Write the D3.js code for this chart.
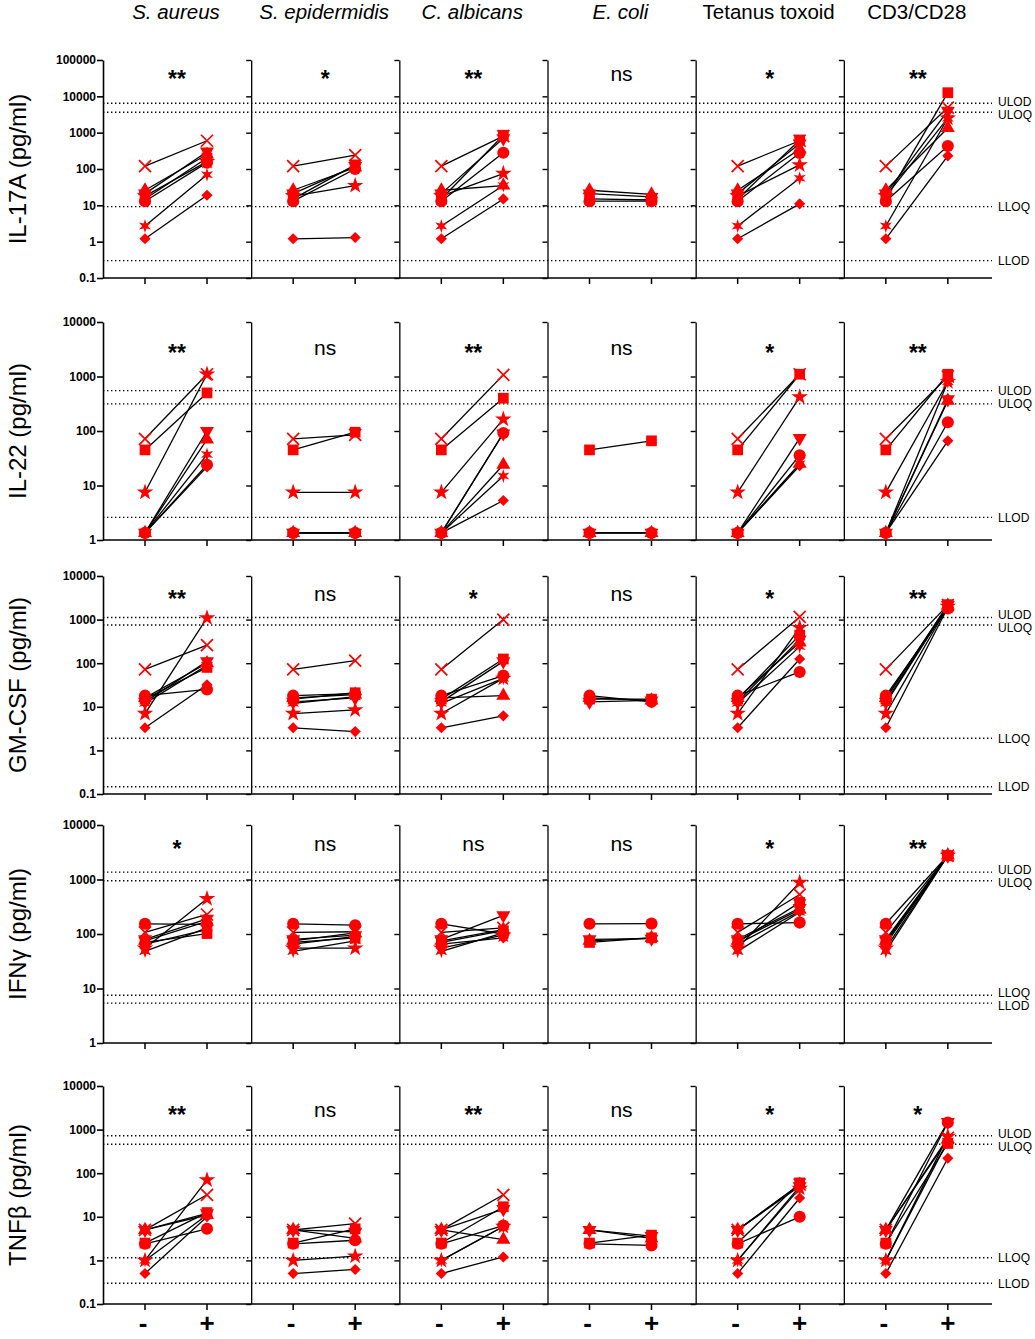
<!doctype html>
<html>
<head>
<meta charset="utf-8">
<style>
  body { margin: 0; background: #fff; }
  svg { display: block; font-family: "Liberation Sans", Arial, sans-serif; }
</style>
</head>
<body>
<div id="chart"></div>
<script src="https://d3js.org/d3.v7.min.js"></script>
<script>
// ---- data ----
const stimuli = ['S. aureus', 'S. epidermidis', 'C. albicans', 'E. coli', 'Tetanus toxoid', 'CD3/CD28'];
const italicStimuli = ['S. aureus', 'S. epidermidis', 'C. albicans', 'E. coli'];
const conditions = ['-', '+'];
// one marker shape per donor
const donorShapes = ['cross', 'triangle', 'star', 'square', 'diamond', 'circle', 'asterisk', 'triangleDown'];

const cytokines = ['IL-17A (pg/ml)', 'IL-22 (pg/ml)', 'GM-CSF (pg/ml)', 'IFNγ (pg/ml)', 'TNFβ (pg/ml)'];
const yDomains = [[0.1, 100000], [1, 10000], [0.1, 10000], [1, 10000], [0.1, 10000]];
const yTicks = [
  [0.1, 1, 10, 100, 1000, 10000, 100000],
  [1, 10, 100, 1000, 10000],
  [0.1, 1, 10, 100, 1000, 10000],
  [1, 10, 100, 1000, 10000],
  [0.1, 1, 10, 100, 1000, 10000]
];
const significance = [
  ['**', '*', '**', 'ns', '*', '**'],
  ['**', 'ns', '**', 'ns', '*', '**'],
  ['**', 'ns', '*', 'ns', '*', '**'],
  ['*', 'ns', 'ns', 'ns', '*', '**'],
  ['**', 'ns', '**', 'ns', '*', '*']
];
const limitNames = [
  ['ULOD', 'ULOQ', 'LLOQ', 'LLOD'],
  ['ULOD', 'ULOQ', 'LLOD'],
  ['ULOD', 'ULOQ', 'LLOQ', 'LLOD'],
  ['ULOD', 'ULOQ', 'LLOQ', 'LLOD'],
  ['ULOD', 'ULOQ', 'LLOQ', 'LLOD']
];
const limitValues = [
  [6450, 3630, 9.2, 0.3],
  [550, 315, 2.6],
  [1120, 750, 1.9, 0.147],
  [1365, 950, 7.5, 5.4],
  [720, 460, 1.15, 0.3]
];

// unstimulated (-) value per donor, and stimulated (+) value per stimulus per donor
// donor order: cross, triangle, star, square, diamond, circle, asterisk, triangleDown
const il17aUnstim = [120, 26, 18, 15, 1.2, 13, 2.7, 21];
const il17aStim = [
  [600, 250, 160, 200, 19, 150, 70, 300],
  [240, 110, 35, 130, 1.3, 100, null, 120],
  [800, 35, 75, 850, 15, 280, 35, 700],
  [null, 20, null, 14, null, 13, null, 17],
  [600, 350, 130, 630, 11, 275, 56, 500],
  [4900, 1340, 2500, 12600, 230, 430, 2500, 4000]
];
const il22Unstim = [72, 1.35, 7.5, 45, 1.35, 1.35, 1.35, 1.35];
const il22Stim = [
  [1100, 70, 1100, 500, 22, 24, 37, 100],
  [85, 1.35, 7.5, 95, 1.35, 1.35, null, 1.35],
  [1070, 24, 165, 400, 5.3, 92, 15, 90],
  [null, 1.35, null, 66, null, 1.35, null, 1.35],
  [1100, 25, 420, 1100, 23, 36, 25, 74],
  [1000, 360, 800, 1100, 66, 145, 800, 380]
];
const gmcsfUnstim = [72, 16, 7, 15, 3.3, 18, 12, 13];
const gmcsfStim = [
  [260, 100, 1090, 80, 32, 25, 90, 110],
  [114, 19, 8.5, 21, 2.7, 20, 17, 16],
  [1000, 18, 45, 125, 6.2, 52, 45, 110],
  [null, 14, null, 15, null, 13, null, 14],
  [1150, 300, 650, 440, 125, 63, 240, 350],
  [2150, 2100, 2000, 2200, 1900, 1800, 2050, 2150]
];
const ifngUnstim = [107, 75, 55, 70, 65, 154, 48, 80];
const ifngStim = [
  [228, 170, 445, 102, 120, 150, 130, 190],
  [110, 105, 55, 85, 90, 145, 75, 95],
  [130, 120, 95, 115, 85, 100, 105, 220],
  [null, 85, null, 85, null, 155, null, 82],
  [530, 280, 880, 380, 260, 162, 250, 300],
  [2750, 2750, 2750, 2750, 2750, 2750, 2750, 2750]
];
const tnfbUnstim = [5, 5, 1, 2.5, 0.5, 2.4, 1, 5];
const tnfbStim = [
  [32, 11, 70, 12.5, 10, 5.3, 11, 12],
  [7, 3.2, 1.25, 5.3, 0.62, 2.9, null, 4.5],
  [32, 3, 6, 17, 1.2, 6.3, 6, 15],
  [null, 3.2, null, 3.8, null, 2.2, null, 3.6],
  [55, 55, 45, 60, 27, 10, 50, 50],
  [650, 600, 700, 480, 220, 1450, 550, 1500]
];
const unstimulated = [il17aUnstim, il22Unstim, gmcsfUnstim, ifngUnstim, tnfbUnstim];
const stimulated = [il17aStim, il22Stim, gmcsfStim, ifngStim, tnfbStim];

// ---- layout ----
const width = 1035, height = 1339;
const plotLeft = 103, plotRight = 992;
const rowTops = [60, 322, 576, 825, 1086];
const sigCenter = [15, 27, 19, 20, 25];   // centre of significance text below panel top
const panelH = 218;
const colW = (plotRight - plotLeft) / stimuli.length;

const svg = d3.select('#chart').append('svg')
  .attr('width', width)
  .attr('height', height);

// marker generators
const asteriskPath = (() => {
  const pts = [];
  for (let i = 0; i < 12; i++) {
    const r = i % 2 === 0 ? 7 : 2.8;
    const a = Math.PI * i / 6 - Math.PI / 2;
    pts.push([r * Math.cos(a), r * Math.sin(a)]);
  }
  return 'M' + pts.map(p => p.join(',')).join('L') + 'Z';
})();

function drawMarker(g, shape, x, y) {
  if (shape === 'cross') {
    g.append('path')
      .attr('d', 'M-6,-6L6,6M-6,6L6,-6')
      .attr('transform', `translate(${x},${y})`)
      .attr('stroke', '#ff0000')
      .attr('stroke-width', 1.7)
      .attr('fill', 'none');
    return;
  }
  let d, rot = 0;
  switch (shape) {
    case 'triangle': d = d3.symbol(d3.symbolTriangle, 85)(); break;
    case 'triangleDown': d = d3.symbol(d3.symbolTriangle, 85)(); rot = 180; break;
    case 'star': d = d3.symbol(d3.symbolStar, 85)(); break;
    case 'square': d = d3.symbol(d3.symbolSquare, 115)(); break;
    case 'diamond': d = d3.symbol(d3.symbolSquare, 62)(); rot = 45; break;
    case 'circle': d = d3.symbol(d3.symbolCircle, 115)(); break;
    case 'asterisk': d = asteriskPath; break;
  }
  g.append('path')
    .attr('d', d)
    .attr('transform', `translate(${x},${y}) rotate(${rot})`)
    .attr('fill', '#ff0000');
}

// column headers
svg.selectAll('.col-title')
  .data(stimuli)
  .join('text')
  .attr('class', 'col-title')
  .attr('x', (d, i) => plotLeft + colW * i + 73)
  .attr('y', 19)
  .attr('text-anchor', 'middle')
  .attr('font-size', 20.5)
  .attr('font-style', d => italicStimuli.includes(d) ? 'italic' : 'normal')
  .text(d => d);

cytokines.forEach((cyto, r) => {
  const top = rowTops[r], bottom = top + panelH;
  const y = d3.scaleLog().domain(yDomains[r]).range([bottom, top]);
  const row = svg.append('g');

  // row title
  row.append('text')
    .attr('transform', `translate(26,${(top + bottom) / 2}) rotate(-90)`)
    .attr('text-anchor', 'middle')
    .attr('font-size', 24)
    .text(cyto);

  // left axis with labels
  const yAxis = d3.axisLeft(y)
    .tickValues(yTicks[r])
    .tickFormat(d => String(d))
    .tickSize(6)
    .tickSizeOuter(0);
  const ax = row.append('g')
    .attr('transform', `translate(${plotLeft},0)`)
    .call(yAxis);
  ax.select('.domain').attr('stroke-width', 1.6);
  ax.selectAll('.tick line').attr('stroke-width', 1.6);
  ax.selectAll('.tick text')
    .attr('font-size', 12)
    .attr('font-weight', 'bold')
    .attr('font-family', '"Liberation Sans", Arial, sans-serif')
    .attr('x', -7);

  // dividers for other panels
  for (let c = 1; c < stimuli.length; c++) {
    const dv = row.append('g')
      .attr('transform', `translate(${plotLeft + colW * c},0)`)
      .call(d3.axisLeft(y).tickValues(yTicks[r]).tickFormat('').tickSize(5).tickSizeOuter(0));
    dv.select('.domain').attr('stroke-width', 1.3);
    dv.selectAll('.tick line').attr('stroke-width', 1.4);
  }

  // bottom axis line
  row.append('line')
    .attr('x1', plotLeft).attr('x2', plotRight)
    .attr('y1', bottom).attr('y2', bottom)
    .attr('stroke', '#000').attr('stroke-width', 1.6);

  // limit lines and labels
  const limY = limitValues[r].map(v => y(v));
  const labY = limY.slice();
  for (let i = 0; i < labY.length - 1; i++) {
    const gap = labY[i + 1] - labY[i];
    if (gap < 13) {
      labY[i] -= (13 - gap) / 2;
      labY[i + 1] += (13 - gap) / 2;
    }
  }
  limitValues[r].forEach((v, i) => {
    row.append('line')
      .attr('x1', plotLeft).attr('x2', plotRight)
      .attr('y1', limY[i]).attr('y2', limY[i])
      .attr('stroke', '#000')
      .attr('stroke-width', 1.4)
      .attr('stroke-dasharray', '1.4,2.6');
    row.append('text')
      .attr('x', plotRight + 6)
      .attr('y', labY[i])
      .attr('dy', '0.36em')
      .attr('font-size', 12)
      .text(limitNames[r][i]);
  });

  stimuli.forEach((stim, c) => {
    const left = plotLeft + colW * c;
    const x = d3.scalePoint().domain(conditions).range([left + 42, left + 104]);
    const g = row.append('g');

    // bottom ticks
    conditions.forEach(k => {
      g.append('line')
        .attr('x1', x(k)).attr('x2', x(k))
        .attr('y1', bottom).attr('y2', bottom + 6)
        .attr('stroke', '#000').attr('stroke-width', 1.5);
    });

    // significance label
    const sig = significance[r][c];
    const isNs = sig === 'ns';
    g.append('text')
      .attr('x', left + 74)
      .attr('y', top + sigCenter[r] + (isNs ? 6 : 12))
      .attr('text-anchor', 'middle')
      .attr('font-size', isNs ? 21 : 23)
      .attr('font-weight', isNs ? 'normal' : 'bold')
      .text(sig);

    const pairs = donorShapes.map((shape, k) => ({
      shape,
      minus: unstimulated[r][k],
      plus: stimulated[r][c][k]
    })).filter(d => d.plus != null);

    g.selectAll('line.pair')
      .data(pairs)
      .join('line')
      .attr('class', 'pair')
      .attr('x1', x('-')).attr('y1', d => y(d.minus))
      .attr('x2', x('+')).attr('y2', d => y(d.plus))
      .attr('stroke', '#000')
      .attr('stroke-width', 1.3);

    pairs.forEach(d => {
      drawMarker(g, d.shape, x('-'), y(d.minus));
      drawMarker(g, d.shape, x('+'), y(d.plus));
    });

    // condition labels under the last row
    if (r === cytokines.length - 1) {
      conditions.forEach(k => {
        svg.append('text')
          .attr('x', x(k) - (k === '-' ? 2 : 0))
          .attr('y', bottom + 28)
          .attr('text-anchor', 'middle')
          .attr('font-size', 26)
          .attr('font-weight', 'bold')
          .text(k);
      });
    }
  });
});
</script>
</body>
</html>
